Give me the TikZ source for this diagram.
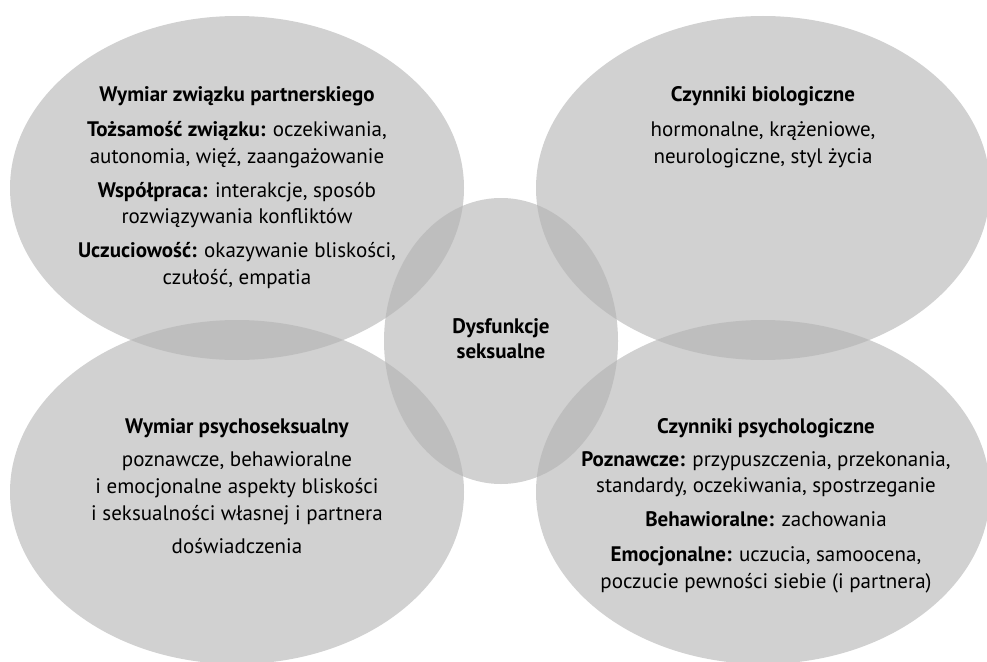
\documentclass[tikz,border=0pt]{standalone}
\usepackage{fontspec}
\setmainfont{PT Sans}
\usetikzlibrary{positioning, shapes.geometric}

\definecolor{ringgray}{gray}{0.70}

\tikzset{
    ring/.style={ellipse, fill=ringgray, fill opacity=0.6, draw=none, inner sep=0pt},
    big ring/.style={ring, minimum width=454pt, minimum height=344pt},
    ring text/.style={align=center, anchor=north, inner sep=0pt, text=black,
        font=\fontsize{21}{26.8}\selectfont}
}

\begin{document}
\begin{tikzpicture}[x=1pt, y=-1pt]
    \useasboundingbox (0,0) rectangle (987,661);

    \node[big ring]   (Partner)    at (237,188) {};
    \node[big ring]   (Biology)    at (763,188) {};
    \node[big ring]   (Psychosex)  at (237,492) {};
    \node[big ring]   (Psychology) at (763,492) {};
    \node[ring, minimum width=234pt, minimum height=286pt] (Dysfunction) at (501,341) {};

    \node[ring text] (Partner text) at (237,86) {%
        \textbf{Wymiar związku partnerskiego}\\[9pt]
        \textbf{Tożsamość związku:} oczekiwania,\\
        autonomia, więź, zaangażowanie\\[6.5pt]
        \textbf{Współpraca:} interakcje, sposób\\
        rozwiązywania konfliktów\\[7pt]
        \textbf{Uczuciowość:} okazywanie bliskości,\\
        czułość, empatia};

    \node[ring text] (Biology text) at (763,86) {%
        \textbf{Czynniki biologiczne}\\[9pt]
        hormonalne, krążeniowe,\\
        neurologiczne, styl życia};

    \node[ring text] (Dysfunction text) at (501,318) {%
        \textbf{Dysfunkcje}\\[-1.5pt]
        \textbf{seksualne}};

    \node[ring text] (Psychosex text) at (237,418) {%
        \textbf{Wymiar psychoseksualny}\\[7pt]
        poznawcze, behawioralne\\
        i emocjonalne aspekty bliskości\\
        i seksualności własnej i partnera\\[6pt]
        doświadczenia};

    \node[ring text] (Psychology text) at (766,418) {%
        \textbf{Czynniki psychologiczne}\\[6pt]
        \textbf{Poznawcze:} przypuszczenia, przekonania,\\
        standardy, oczekiwania, spostrzeganie\\[7pt]
        \textbf{Behawioralne:} zachowania\\[8pt]
        \textbf{Emocjonalne:} uczucia, samoocena,\\
        poczucie pewności siebie (i partnera)};
\end{tikzpicture}
\end{document}
